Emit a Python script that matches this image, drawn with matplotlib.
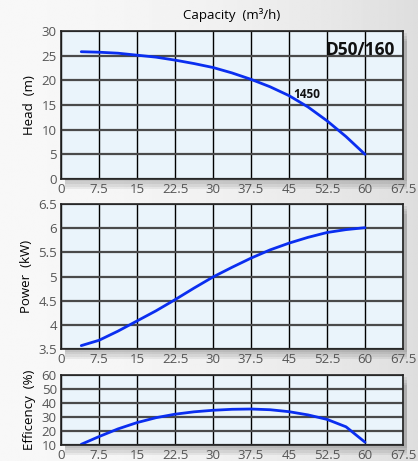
import numpy as np
import matplotlib.pyplot as plt
from matplotlib.patches import FancyBboxPatch

plt.rcParams['font.family'] = ['Open Sans', 'DejaVu Sans']

# capacity ticks (m3/h)
x_ticks = [0, 7.5, 15, 22.5, 30, 37.5, 45, 52.5, 60, 67.5]
x_labels = ['0', '7.5', '15', '22.5', '30', '37.5', '45', '52.5', '60', '67.5']

# curves
q = [4, 7.5, 11.25, 15, 18.75, 22.5, 26.25, 30, 33.75, 37.5, 41.25, 45, 48.75, 52.5, 56.25, 60]
head = [25.8, 25.7, 25.5, 25.1, 24.7, 24.1, 23.4, 22.6, 21.5, 20.2, 18.7, 16.9, 14.6, 11.8, 8.6, 5.0]
power = [3.57, 3.68, 3.87, 4.08, 4.29, 4.52, 4.76, 4.99, 5.19, 5.38, 5.55, 5.69, 5.81, 5.91, 5.97, 6.01]
eff = [10.5, 16.0, 21.5, 26.0, 29.5, 32.0, 33.7, 34.8, 35.5, 35.7, 35.2, 33.8, 31.5, 28.3, 23.0, 12.0]

head_ticks = [0, 5, 10, 15, 20, 25, 30]
power_ticks = [3.5, 4, 4.5, 5, 5.5, 6, 6.5]
power_labels = ['3.5', '4', '4.5', '5', '5.5', '6', '6.5']
eff_ticks = [10, 20, 30, 40, 50, 60]

W, H = 418, 461
fig = plt.figure(figsize=(W / 100, H / 100), dpi=100)

# background gradient
bg = fig.add_axes([0, 0, 1, 1], zorder=-10)
gx = np.linspace(0, 1, 200)
grad = np.outer(np.ones(50), 0.97 - 0.10 * gx ** 2)
bg.imshow(grad, cmap='gray', vmin=0, vmax=1, aspect='auto', extent=[0, 1, 0, 1])
bg.set_xlim(0, 1)
bg.set_ylim(0, 1)
bg.axis('off')


def px_axes(left, top, right, bottom):
    rect = [left / W, 1 - bottom / H, (right - left) / W, (bottom - top) / H]
    # soft shadow
    for i in range(4):
        d = (i + 1) * 2.5
        bg.add_patch(FancyBboxPatch((rect[0] + 4 / W, rect[1] - d / H), rect[2], rect[3],
                                    boxstyle='square,pad=0', fc='black', ec='none', alpha=0.06,
                                    transform=bg.transAxes))
    ax = fig.add_axes(rect)
    ax.set_facecolor('#eaf4fb')
    ax.set_xlim(0, 67.5)
    ax.set_xticks(x_ticks)
    ax.set_xticklabels(x_labels)
    ax.tick_params(length=0, labelsize=9.5, labelcolor='#555555', pad=3)
    ax.xaxis.grid(True, color='black', lw=1.0)
    ax.yaxis.grid(True, color='#4a4a4a', lw=1.6)
    ax.set_axisbelow(True)
    for s in ax.spines.values():
        s.set_color('#222222')
        s.set_linewidth(1.2)
    return ax


line_kw = dict(color='#0a2ef0', lw=2, solid_capstyle='round', solid_joinstyle='round')

ax1 = px_axes(61, 31, 403, 179)
ax1.plot(q, head, **line_kw)
ax1.set_ylim(0, 30)
ax1.set_yticks(head_ticks)
ax1.set_ylabel('Head  (m)', fontsize=9.5, labelpad=4)
ax1.text(0.975, 0.93, 'D50/160', transform=ax1.transAxes, ha='right', va='top',
         fontsize=12.5, fontweight='bold', color='#111111')
ax1.text(45.9, 17.2, '1450', ha='left', va='center', fontsize=8.5, fontweight='bold', color='#111111')
fig.text(0.5 * (61 + 403) / W, 1 - 15 / H, 'Capacity  (m³/h)', ha='center', va='center', fontsize=9.5)

ax2 = px_axes(61, 204, 403, 349)
ax2.plot(q, power, **line_kw)
ax2.set_ylim(3.5, 6.5)
ax2.set_yticks(power_ticks)
ax2.set_yticklabels(power_labels)
ax2.set_ylabel('Power  (kW)', fontsize=9.5, labelpad=4)

ax3 = px_axes(61, 375, 403, 445)
ax3.plot(q, eff, **line_kw)
ax3.set_ylim(10, 60)
ax3.set_yticks(eff_ticks)
ax3.set_ylabel('Efficency  (%)', fontsize=9.5, labelpad=4)

fig.savefig('out.png', dpi=100)
